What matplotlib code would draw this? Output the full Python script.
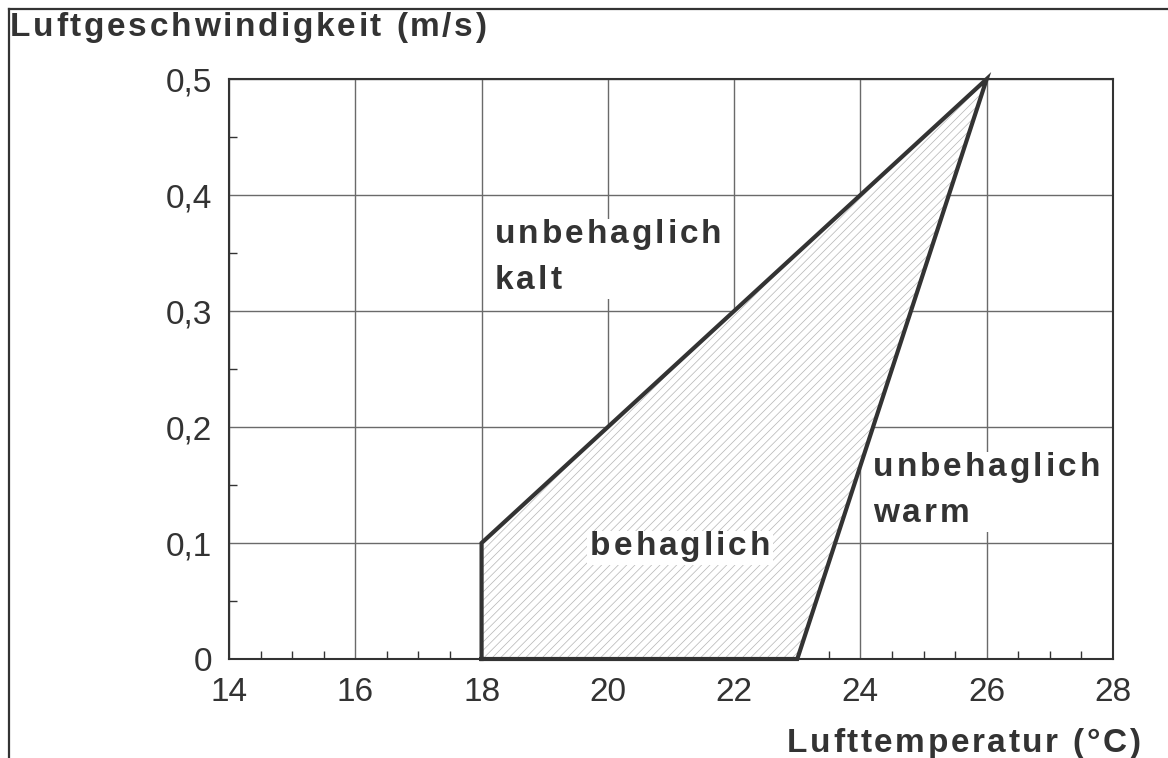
import matplotlib.pyplot as plt
from matplotlib.lines import Line2D
from matplotlib.patches import Rectangle
from matplotlib.font_manager import FontProperties, findfont, get_font
from matplotlib.ticker import FixedLocator, MultipleLocator

plt.rcParams['font.family'] = ['Liberation Sans', 'DejaVu Sans']
plt.rcParams['hatch.linewidth'] = 0.5
plt.rcParams['hatch.color'] = '#b4b4b4'

# comfort zone (temperature °C, air speed m/s)
zone_temp = [18, 18, 26, 23, 18]
zone_speed = [0, 0.1, 0.5, 0, 0]

x_ticks = [14, 16, 18, 20, 22, 24, 26, 28]
y_ticks = [0, 0.1, 0.2, 0.3, 0.4, 0.5]
y_labels = ['0', '0,1', '0,2', '0,3', '0,4', '0,5']

# region labels: (x, y of first baseline, lines)
labels = [(18.21, 0.3586, ['unbehaglich', 'kalt']),
          (24.20, 0.1578, ['unbehaglich', 'warm']),
          (19.72, 0.0897, ['behaglich'])]

dark = '#333333'
W, H = 1168, 758
DPI = 100

fig = plt.figure(figsize=(W / DPI, H / DPI), dpi=DPI)
ax = fig.add_axes((229 / W, 1 - 659 / H, 884 / W, 580 / H))


def adv_widths(s, size, weight):
    fp = FontProperties(family=['Liberation Sans'], weight=weight, size=size)
    font = get_font(findfont(fp))
    font.set_size(size, DPI)
    return [font.load_char(ord(c)).linearHoriAdvance / 65536 for c in s]


def spaced_text(px, py, s, size=24, track=3.0, ha='left', weight='bold', z=6):
    # draw text char by char (letter spacing), px/py in pixels from bottom-left
    ws = adv_widths(s, size, weight)
    total = sum(ws) + track * (len(s) - 1)
    x0 = px - total if ha == 'right' else px
    x = x0
    for c, w in zip(s, ws):
        fig.text(x / W, py / H, c, fontsize=size, fontweight=weight, color=dark,
                 ha='left', va='baseline', zorder=z)
        x += w + track
    return x0, total


ax.fill(zone_temp, zone_speed, facecolor='white', hatch='////',
        edgecolor='#b4b4b4', linewidth=0, zorder=2)
ax.plot(zone_temp, zone_speed, color=dark, linewidth=3, zorder=4,
        solid_joinstyle='miter', clip_on=False)

ax.set_xlim(14, 28)
ax.set_ylim(0, 0.5)
ax.xaxis.set_major_locator(FixedLocator(x_ticks))
ax.xaxis.set_minor_locator(MultipleLocator(0.5))
ax.yaxis.set_major_locator(FixedLocator(y_ticks))
ax.set_yticklabels(y_labels)
ax.yaxis.set_minor_locator(MultipleLocator(0.05))

ax.grid(True, which='major', color='#6a6a6a', linewidth=1.0, zorder=1)
ax.set_axisbelow(True)
ax.tick_params(which='major', length=0, labelsize=24, colors=dark, pad=12)
ax.tick_params(axis='x', which='major', pad=13)
ax.tick_params(which='minor', direction='in', length=6, width=1, color=dark)
for s in ax.spines.values():
    s.set_color(dark)
    s.set_linewidth(1.5)
    s.set_zorder(5)

line_gap = 46  # px between baselines
for x, y, lines in labels:
    px, py = ax.transData.transform((x, y))
    boxes = []
    for i, t in enumerate(lines):
        x0, w = spaced_text(px, py - i * line_gap, t)
        boxes.append(w)
    # white background behind the label block
    top = py + 24
    bottom = py - (len(lines) - 1) * line_gap - 10
    fig.add_artist(Rectangle((px - 3, bottom), max(boxes) + 6, top - bottom,
                             transform=None, facecolor='white',
                             edgecolor='none', zorder=5.5))

spaced_text(10, H - 36, 'Luftgeschwindigkeit (m/s)', track=2.7)
spaced_text(1140, H - 752, 'Lufttemperatur (°C)', track=2.6, ha='right')

# outer frame (top and left only)
fig.add_artist(Line2D([0.0075, 1.0], [0.9875, 0.9875], transform=fig.transFigure,
                      color=dark, linewidth=1.6))
fig.add_artist(Line2D([0.0075, 0.0075], [0.0, 0.9875], transform=fig.transFigure,
                      color=dark, linewidth=1.6))

fig.savefig('out.png', dpi=DPI)
